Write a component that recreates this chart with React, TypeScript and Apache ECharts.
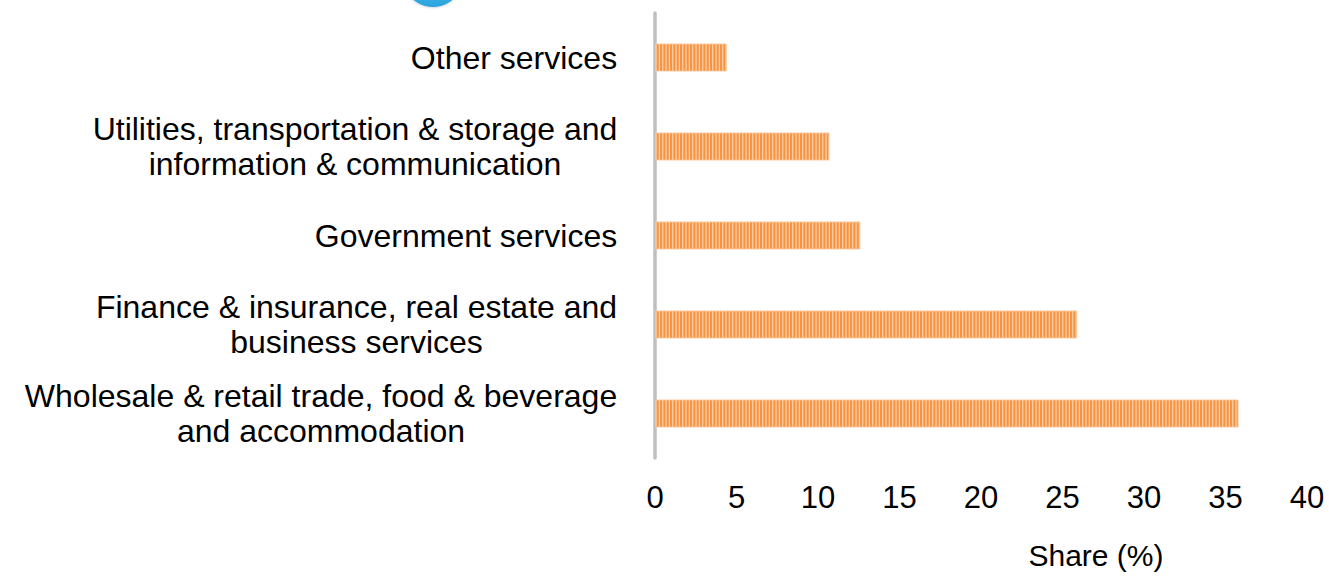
import React, { useEffect, useRef } from "react";
import * as echarts from "echarts";

// Categories listed bottom -> top (ECharts category y-axis starts at the bottom)
const categories: string[] = [
  "Wholesale & retail trade, food & beverage\nand accommodation",
  "Finance & insurance, real estate and\nbusiness services",
  "Government services",
  "Utilities, transportation & storage and\ninformation & communication",
  "Other services",
];
const shareValues: number[] = [35.8, 25.9, 12.6, 10.7, 4.4];
const xMin = 0;
const xMax = 40;
const xInterval = 5;
const xAxisName = "Share (%)";

const FONT = '"Liberation Sans", Arial, Helvetica, sans-serif';

function makeStripePattern(): HTMLCanvasElement {
  const cv = document.createElement("canvas");
  cv.width = 10;
  cv.height = 4;
  const ctx = cv.getContext("2d")!;
  ctx.fillStyle = "#fcd2ab";
  ctx.fillRect(0, 0, 10, 4);
  ctx.fillStyle = "#f79443";
  const pitch = 10 / 3;
  for (let i = 0; i < 3; i++) {
    ctx.fillRect(i * pitch, 0, 2.1, 4);
  }
  return cv;
}

export default function App() {
  const ref = useRef<HTMLDivElement>(null);

  useEffect(() => {
    if (!ref.current) return;
    const chart = echarts.init(ref.current, null, { renderer: "svg" });

    const catFont = 32;
    const catLine = 35;
    const measure = document.createElement("canvas").getContext("2d")!;
    measure.font = `${catFont}px "Liberation Sans", Arial, sans-serif`;
    const rich: Record<string, any> = {};
    categories.forEach((c, i) => {
      const w = Math.max(...c.split("\n").map((l) => measure.measureText(l).width));
      rich["c" + i] = {
        width: Math.ceil(w) + 1,
        align: "center",
        fontSize: catFont,
        lineHeight: catLine,
        fontFamily: FONT,
        color: "#000000",
      };
    });

    const pattern = makeStripePattern();

    chart.setOption({
      animation: false,
      backgroundColor: "#ffffff",
      grid: { left: 655, right: 22, top: 13, bottom: 118, containLabel: false },
      xAxis: {
        type: "value",
        min: xMin,
        max: xMax,
        interval: xInterval,
        axisLine: { show: false },
        axisTick: { show: false },
        splitLine: { show: false },
        axisLabel: {
          fontSize: 31,
          lineHeight: 30,
          margin: 24,
          color: "#000000",
          fontFamily: FONT,
        },
        name: xAxisName,
        nameLocation: "middle",
        nameGap: 82,
        nameTextStyle: {
          fontSize: 30,
          lineHeight: 30,
          color: "#000000",
          fontFamily: FONT,
          padding: [0, 0, 0, 230],
        },
      },
      yAxis: {
        type: "category",
        data: categories,
        axisLine: { show: true, lineStyle: { color: "#bfbfbf", width: 3.5 } },
        axisTick: { show: false },
        splitLine: { show: false },
        axisLabel: {
          margin: 37,
          align: "right",
          formatter: (value: string, index: number) =>
            value
              .split("\n")
              .map((l) => `{c${index}|${l}}`)
              .join("\n"),
          rich,
        },
      },
      series: [
        {
          type: "bar",
          data: shareValues,
          barWidth: 28,
          itemStyle: {
            color: { image: pattern, repeat: "repeat" },
            borderColor: "rgba(250,196,150,0.9)",
            borderWidth: 1,
          },
        },
      ],
      graphic: [
        {
          type: "circle",
          shape: { cx: 433, cy: -23, r: 30 },
          style: {
            fill: new echarts.graphic.RadialGradient(0.5, 0.35, 0.75, [
              { offset: 0, color: "#6fcaf3" },
              { offset: 1, color: "#1e9edb" },
            ]),
            shadowBlur: 3,
            shadowColor: "rgba(0,0,0,0.3)",
          },
          silent: true,
        },
      ],
    });

    return () => chart.dispose();
  }, []);

  return (
    <div
      ref={ref}
      style={{ position: "fixed", left: 0, top: 0, width: 1329, height: 576 }}
    />
  );
}
